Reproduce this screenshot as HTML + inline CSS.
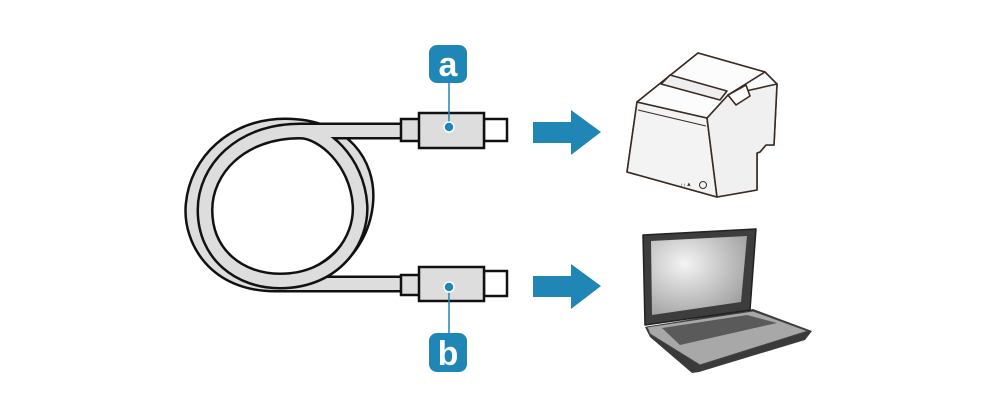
<!DOCTYPE html>
<html><head><meta charset="utf-8"><style>
html,body{margin:0;padding:0;background:#fff;width:1000px;height:400px;overflow:hidden}
svg{display:block}
</style></head><body>
<svg width="1000" height="400" viewBox="0 0 1000 400" xmlns="http://www.w3.org/2000/svg">
<defs>
<radialGradient id="scr" cx="0.35" cy="0.35" r="0.8">
<stop offset="0" stop-color="#f4f4f4"/><stop offset="1" stop-color="#9a9a9a"/>
</radialGradient>
</defs>
<!-- cable -->
<g fill="none" stroke-linecap="butt">
<path d="M403,284 L275,284 C215,284 190,240 193,205 C197,160 235,126 285,126 C345,126 368,165 366,200 C363,250 320,284 275,284" stroke="#111" stroke-width="17"/>
<path d="M403,284 L275,284 C215,284 190,240 193,205 C197,160 235,126 285,126 C345,126 368,165 366,200 C363,250 320,284 275,284" stroke="#dcdddc" stroke-width="12"/>
<path d="M403,131 L300,131 C240,131 205,170 205,210 C205,255 240,281 280,281 C335,281 362,240 360,205 C357,160 322,131 300,131" stroke="#111" stroke-width="17"/>
<path d="M403,131 L300,131 C240,131 205,170 205,210 C205,255 240,281 280,281 C335,281 362,240 360,205 C357,160 322,131 300,131" stroke="#dcdddc" stroke-width="12"/>
</g>
<!-- connectors -->
<g stroke="#111" stroke-width="2.5" fill="#dcdddc">
<rect x="401" y="119" width="19" height="22"/>
<rect x="484" y="119" width="23" height="22" fill="#fff"/>
<rect x="419" y="113" width="65" height="35"/>
<rect x="401" y="275" width="19" height="20"/>
<rect x="484" y="271" width="23" height="25" fill="#fff"/>
<rect x="419" y="267" width="65" height="34"/>
</g>
<!-- badges -->
<g>
<line x1="449" y1="80" x2="449" y2="127" stroke="#1f86b5" stroke-width="1.5"/>
<line x1="449" y1="287" x2="449" y2="335" stroke="#1f86b5" stroke-width="1.5"/>
<circle cx="449" cy="127" r="5" fill="#1f86b5" stroke="#fff" stroke-width="1.5"/>
<circle cx="449" cy="287" r="5" fill="#1f86b5" stroke="#fff" stroke-width="1.5"/>
<rect x="429" y="45" width="38" height="38" rx="8" fill="#1f86b5"/>
<rect x="429" y="333" width="38" height="39" rx="8" fill="#1f86b5"/>
<text x="448" y="76" text-anchor="middle" font-family="Liberation Sans, sans-serif" font-weight="bold" font-size="34" fill="#fff">a</text>
<text x="448" y="365" text-anchor="middle" font-family="Liberation Sans, sans-serif" font-weight="bold" font-size="34" fill="#fff">b</text>
</g>
<!-- arrows -->
<g fill="#1f86b5">
<polygon points="533,122 571,122 571,110 601,132 571,155 571,143 533,143"/>
<polygon points="533,276 571,276 571,264 601,286 571,309 571,297 533,297"/>
</g>
<!-- printer -->
<g stroke="#3a2a22" stroke-width="1.6" fill="#fafafa" stroke-linejoin="round">
<polygon points="637,102 698,53 765,72 777,84 774,145 766,145 760,152 757,153 757,190 717,197 627,172"/>
<polygon points="637,102 707,118 717,197 627,172" fill="#f3f3f3"/>
<polygon points="707,118 728,95 777,84 774,145 766,145 760,152 757,153 757,190 717,197" fill="#f0f0f0"/>
<polygon points="637,102 698,53 765,72 728,95 707,118" fill="#fcfcfc"/>
<polygon points="661,84 670,75 727,91 720,100" fill="#eee"/>
<polygon points="728,95 746,85 750,96 736,105" fill="#fff"/>
<line x1="638" y1="110" x2="706" y2="126" stroke-width="1"/>
</g>
<g fill="#333" font-family="Liberation Sans, sans-serif" font-size="7">
<text x="681" y="186">ᵢ ᵢ ▴</text>
<circle cx="703" cy="185" r="3.5" fill="none" stroke="#333" stroke-width="1"/>
</g>
<!-- laptop -->
<g stroke-linejoin="round">
<polygon points="645,327 753,309 812,331 805,340 699,372 692,373 650,337" fill="#3a3a3a"/>
<polygon points="647,327 753,311 808,331 700,365 650,334" fill="#a8a8a8" stroke="#444" stroke-width="1"/>
<polygon points="662,328 747,315 777,323 680,345" fill="#5a5a5a"/>
<polygon points="643,235 756,229 750,310 645,325" fill="#3d3d3d" stroke="#222" stroke-width="1.5"/>
<polygon points="651,241 747,236 741,302 652,315" fill="url(#scr)"/>
</g>
</svg>
</body></html>
